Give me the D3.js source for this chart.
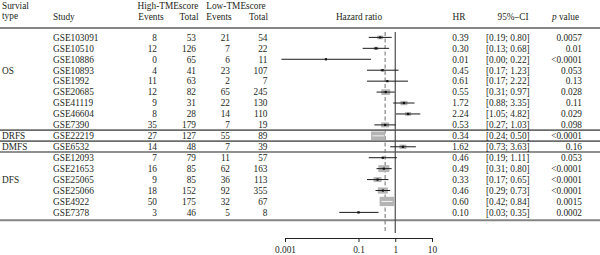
<!DOCTYPE html>
<html>
<head>
<meta charset="utf-8">
<script src="https://cdn.jsdelivr.net/npm/d3@7"></script>
<style>
    body { margin: 0; background: #fff; }
    svg text { font-family: "Liberation Serif", "DejaVu Serif", serif; font-size: 9.3px; fill: #231f20; }
</style>
</head>
<body>
<script>
(function(){

    //table data, one entry per study
    var studies = ["GSE103091", "GSE10510", "GSE10886", "GSE10893", "GSE1992", "GSE20685", "GSE41119", "GSE46604", "GSE7390",
                   "GSE22219", "GSE6532",
                   "GSE12093", "GSE21653", "GSE25065", "GSE25066", "GSE4922", "GSE7378"];
    var highEvents = [8, 12, 0, 4, 11, 12, 9, 8, 35, 27, 14, 7, 16, 9, 18, 50, 3];
    var highTotal = [53, 126, 65, 41, 63, 82, 31, 28, 179, 127, 48, 79, 85, 85, 152, 175, 46];
    var lowEvents = [21, 7, 6, 23, 2, 65, 22, 14, 7, 55, 7, 11, 62, 36, 92, 32, 5];
    var lowTotal = [54, 22, 11, 107, 7, 245, 130, 110, 19, 89, 39, 57, 163, 113, 355, 67, 8];
    var hrLabels = ["0.39", "0.30", "0.01", "0.45", "0.61", "0.55", "1.72", "2.24", "0.53", "0.34", "1.62", "0.46", "0.49", "0.33", "0.46", "0.60", "0.10"];
    var ciLabels = ["[0.19; 0.80]", "[0.13; 0.68]", "[0.00; 0.22]", "[0.17; 1.23]", "[0.17; 2.22]", "[0.31; 0.97]", "[0.88; 3.35]", "[1.05; 4.82]", "[0.27; 1.03]",
                    "[0.24; 0.50]", "[0.73; 3.63]",
                    "[0.19; 1.11]", "[0.31; 0.80]", "[0.17; 0.65]", "[0.29; 0.73]", "[0.42; 0.84]", "[0.03; 0.35]"];
    var pLabels = ["0.0057", "0.01", "<0.0001", "0.053", "0.13", "0.028", "0.11", "0.029", "0.098", "<0.0001", "0.16", "0.053", "<0.0001", "<0.0001", "<0.0001", "0.0015", "0.0002"];

    //plotted values
    var hr = [0.39, 0.30, 0.013, 0.45, 0.61, 0.55, 1.72, 2.24, 0.53, 0.34, 1.62, 0.46, 0.49, 0.33, 0.46, 0.60, 0.10];
    var ciLow = [0.19, 0.13, 0.0008, 0.17, 0.17, 0.31, 0.88, 1.05, 0.27, 0.24, 0.73, 0.19, 0.31, 0.17, 0.29, 0.42, 0.03];
    var ciHigh = [0.80, 0.68, 0.22, 1.23, 2.22, 0.97, 3.35, 4.82, 1.03, 0.50, 3.63, 1.11, 0.80, 0.65, 0.73, 0.84, 0.35];
    var boxWeight = [6, 5, 1, 4, 2, 9, 7, 6, 8, 14, 7, 3, 11, 8, 10, 15, 3];
    var pooledHR = 0.53;

    //survival type groups
    var groupNames = ["OS", "DRFS", "DMFS", "DFS"];
    var groupFirst = [0, 9, 10, 11];
    var groupLast = [8, 9, 10, 16];
    var groupLabelRow = [3, 9, 10, 13];

    //axis ticks
    var tickValues = [0.001, 0.1, 1, 10];
    var tickLabels = ["0.001", "0.1", "1", "10"];

    var width = 600,
        height = 255;

    var svg = d3.select("body")
        .append("svg")
        .attr("width", width)
        .attr("height", height);

    //row and hazard ratio scales
    var y = d3.scaleLinear()
        .domain([0, studies.length - 1])
        .range([37.4, 212.4]);

    var x = d3.scaleLog()
        .domain([0.001, 10])
        .range([285, 432]);

    //header texts
    var headers = [
        {t: "Survial", x: 2, y: 9, a: "start"},
        {t: "type", x: 2, y: 19, a: "start"},
        {t: "Study", x: 53, y: 19.5, a: "start"},
        {t: "High-TMEscore", x: 168, y: 9, a: "middle"},
        {t: "Events", x: 151, y: 19.5, a: "middle"},
        {t: "Total", x: 189, y: 19.5, a: "middle"},
        {t: "Low-TMEscore", x: 236, y: 9, a: "middle"},
        {t: "Events", x: 219, y: 19.5, a: "middle"},
        {t: "Total", x: 258.5, y: 19.5, a: "middle"},
        {t: "Hazard ratio", x: 359, y: 19.5, a: "middle"},
        {t: "HR", x: 459, y: 19.5, a: "middle"},
        {t: "95%\u2013CI", x: 513, y: 19.5, a: "middle"}
    ];
    svg.selectAll(".header")
        .data(headers)
        .enter()
        .append("text")
        .attr("class", "header")
        .attr("x", function(d){ return d.x; })
        .attr("y", function(d){ return d.y; })
        .attr("text-anchor", function(d){ return d.a; })
        .text(function(d){ return d.t; });

    var pHead = svg.append("text")
        .attr("x", 565.5)
        .attr("y", 19.5)
        .attr("text-anchor", "middle");
    pHead.append("tspan").style("font-style", "italic").text("p");
    pHead.append("tspan").text(" value");

    //horizontal rules
    svg.append("line")
        .attr("x1", 0).attr("x2", width)
        .attr("y1", 28).attr("y2", 28)
        .style("stroke", "#858585")
        .style("stroke-width", 2);

    svg.append("line")
        .attr("x1", 0).attr("x2", width)
        .attr("y1", y(studies.length - 1) + 7.8).attr("y2", y(studies.length - 1) + 7.8)
        .style("stroke", "#858585")
        .style("stroke-width", 2);

    //separators between single-study groups
    var seps = [];
    for (var g=1; g<groupNames.length; g++){
        if (groupFirst[g] == groupLast[g] || groupFirst[g-1] == groupLast[g-1]){
            seps.push(y(groupFirst[g]) - 5.7);
        }
    }
    svg.selectAll(".sep")
        .data(seps)
        .enter()
        .append("line")
        .attr("class", "sep")
        .attr("x1", 0).attr("x2", width)
        .attr("y1", function(d){ return d; })
        .attr("y2", function(d){ return d; })
        .style("stroke", "#6b6b6b")
        .style("stroke-width", 1.6);

    //group labels
    svg.selectAll(".group")
        .data(groupNames)
        .enter()
        .append("text")
        .attr("class", "group")
        .attr("x", 2)
        .attr("y", function(d, i){ return y(groupLabelRow[i]) + 3.3; })
        .text(function(d){ return d; });

    //table columns
    var columns = [
        {v: studies, x: 53, a: "start"},
        {v: highEvents, x: 157, a: "end"},
        {v: highTotal, x: 196, a: "end"},
        {v: lowEvents, x: 230, a: "end"},
        {v: lowTotal, x: 267.5, a: "end"},
        {v: hrLabels, x: 460.5, a: "middle"},
        {v: ciLabels, x: 486, a: "start"},
        {v: pLabels, x: 582, a: "end"}
    ];
    columns.forEach(function(col){
        svg.append("g")
            .selectAll("text")
            .data(col.v)
            .enter()
            .append("text")
            .attr("x", col.x)
            .attr("y", function(d, i){ return y(i) + 3.3; })
            .attr("text-anchor", col.a)
            .text(function(d){ return d; });
    });

    //reference lines
    var top = 32, bottom = 233;
    svg.append("line")
        .attr("x1", x(1)).attr("x2", x(1))
        .attr("y1", top).attr("y2", bottom)
        .style("stroke", "#4d4d4d")
        .style("stroke-width", 1.2);

    svg.append("line")
        .attr("x1", x(pooledHR)).attr("x2", x(pooledHR))
        .attr("y1", top).attr("y2", bottom)
        .style("stroke", "#6e6e6e")
        .style("stroke-width", 1)
        .style("stroke-dasharray", "4,2.5");

    //forest plot marks
    var marks = svg.selectAll(".mark")
        .data(studies)
        .enter()
        .append("g")
        .attr("class", "mark");

    marks.append("rect")
        .attr("x", function(d, i){ return x(hr[i]) - boxWeight[i] / 2; })
        .attr("y", function(d, i){ return y(i) - boxWeight[i] * 0.31; })
        .attr("width", function(d, i){ return boxWeight[i]; })
        .attr("height", function(d, i){ return boxWeight[i] * 0.62; })
        .style("fill", "#b4b4b4");

    function inside(i){
        return x(ciLow[i]) >= x(hr[i]) - boxWeight[i] / 2 && x(ciHigh[i]) <= x(hr[i]) + boxWeight[i] / 2;
    }

    marks.append("line")
        .attr("x1", function(d, i){ return x(ciLow[i]); })
        .attr("x2", function(d, i){ return x(ciHigh[i]); })
        .attr("y1", function(d, i){ return y(i); })
        .attr("y2", function(d, i){ return y(i); })
        .style("stroke", function(d, i){ return inside(i) ? "#f2f2f2" : "#1a1a1a"; })
        .style("stroke-width", 1);

    marks.filter(function(d, i){ return !inside(i); })
        .append("rect")
        .attr("x", function(d){ var i = studies.indexOf(d); return x(hr[i]) - 1.1; })
        .attr("y", function(d){ var i = studies.indexOf(d); return y(i) - 1.1; })
        .attr("width", 2.2)
        .attr("height", 2.2)
        .style("fill", "#111");

    //hazard ratio axis
    var xAxis = d3.axisBottom(x)
        .tickValues(tickValues)
        .tickFormat(function(d, i){ return tickLabels[i]; })
        .tickSize(4)
        .tickSizeOuter(0);

    var axis = svg.append("g")
        .attr("transform", "translate(0,238)")
        .call(xAxis);

    axis.select(".domain").style("stroke", "#222");
    axis.selectAll(".tick line").style("stroke", "#222");
    axis.selectAll(".tick text")
        .attr("y", 8)
        .style("font-family", "Liberation Serif, serif")
        .style("font-size", "9.3px")
        .style("fill", "#231f20");

})();
</script>
</body>
</html>
